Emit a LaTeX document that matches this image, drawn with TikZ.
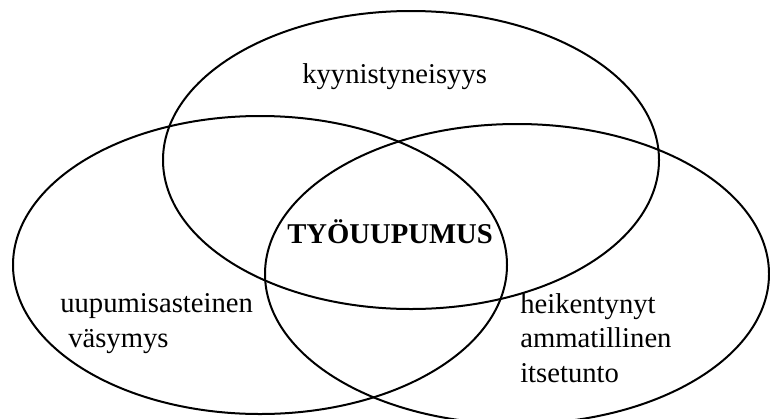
\documentclass[tikz,border=0pt]{standalone}
\usepackage{fontspec}
\setmainfont{Liberation Serif}
\usetikzlibrary{positioning}

\begin{document}
\begin{tikzpicture}[x=0.75pt,y=-0.75pt,
ring/.style={draw,line width=1.5pt},
lbl/.style={inner sep=0pt,font=\fontsize{21.5}{25.8}\selectfont}]
\useasboundingbox (0,0) rectangle (770,418);
% the three dimensions
\draw[ring] (411,160) ellipse [x radius=248, y radius=149];
\draw[ring] (260,265) ellipse [x radius=247, y radius=149];
\draw[ring] (517,274) ellipse [x radius=252, y radius=150];
% labels (base = last line)
\node[lbl,anchor=base west] (cyn) at (302,83) {kyynistyneisyys};
\node[lbl,anchor=base west,font=\fontsize{21.5}{25.8}\selectfont\bfseries] (burn) at (287,243) {TYÖUUPUMUS};
\node[lbl,anchor=base west,align=left] (exh) at (60,347) {uupumisasteinen\\\hspace*{6pt}väsymys};
\node[lbl,anchor=base west,align=left] (eff) at (520,382) {heikentynyt\\ammatillinen\\itsetunto};
\end{tikzpicture}
\end{document}
